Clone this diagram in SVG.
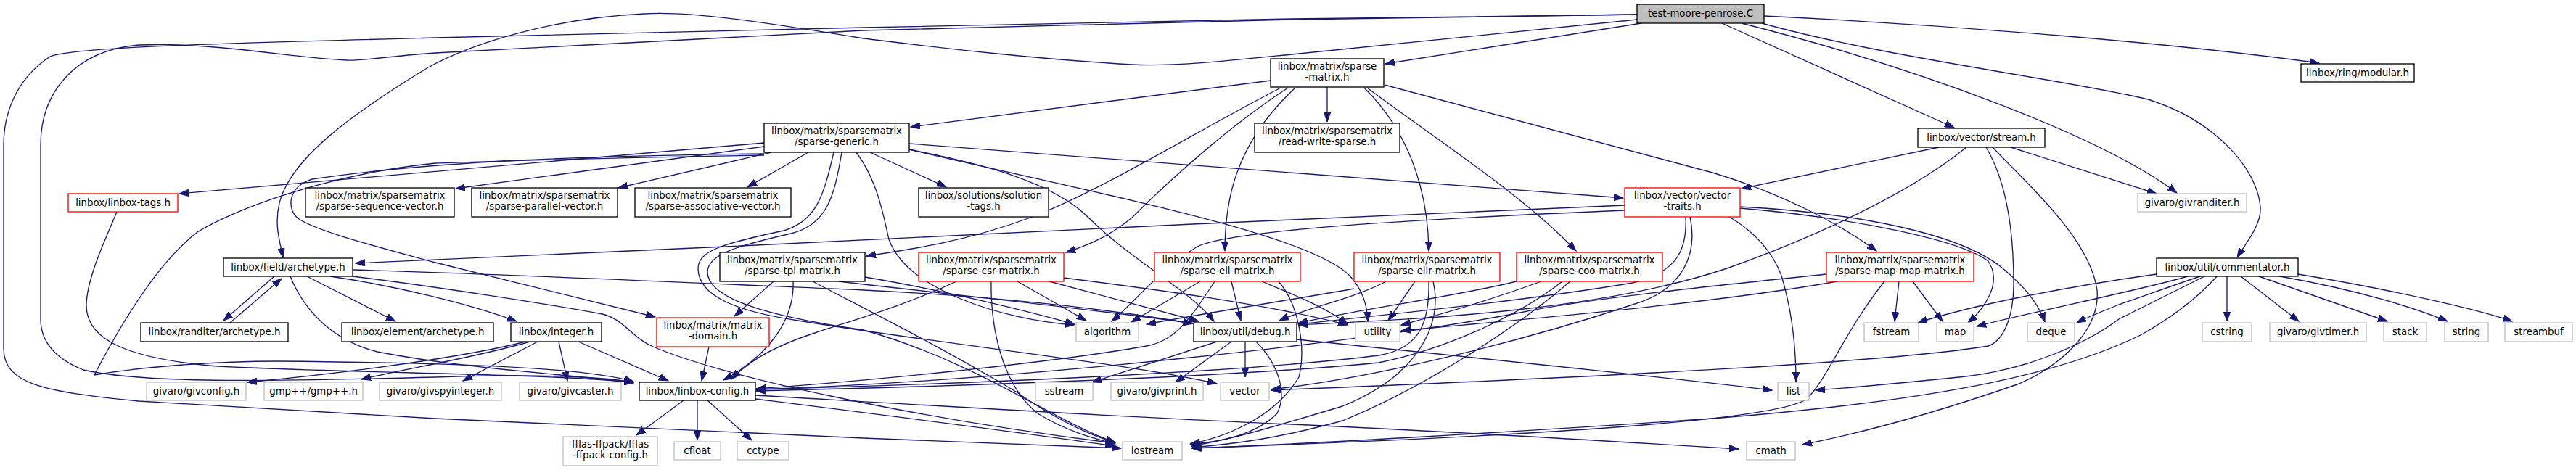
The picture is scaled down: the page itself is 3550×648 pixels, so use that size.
<svg xmlns="http://www.w3.org/2000/svg" width="3550" height="648" viewBox="0 0 3550 648">
<defs>
<marker id="a" markerWidth="14" markerHeight="10" refX="13" refY="5" orient="auto" markerUnits="userSpaceOnUse"><path d="M0,0.3 L13,5 L0,9.7 z" fill="#191970" stroke="#191970" stroke-width="1"/></marker>
<style>
rect{fill:#fff;stroke:#000;stroke-width:1.33}
.r rect{stroke:#ff0000}
.g rect{stroke:#bfbfbf}
.root rect{fill:#bfbfbf}
text{font-family:"DejaVu Sans","Liberation Sans",sans-serif;font-size:13.33px;text-anchor:middle;fill:#000}
#edges path{fill:none;stroke:#191970;stroke-width:1.33;marker-end:url(#a)}
</style>
</defs>
<rect x="0" y="0" width="3550" height="648" style="fill:#fff;stroke:none"/>
<g id="edges">
<path d="M2262,32 L1909,88"/>
<path d="M2373,32 L2693,176"/>
<path d="M2400,32 C2650,95 2900,190 3000,266"/>
<path d="M2428,32 C2600,80 2850,110 2960,137 C3050,165 3110,230 3115,285 C3117,310 3095,335 3083,355"/>
<path d="M2431,22 C2700,35 3000,60 3196,87"/>
<path d="M2256,27 L1780,75 C1700,83 1620,92 1560,89 C1400,80 1250,60 1190,53 C1050,30 950,15 888,19 C760,25 650,60 590,93 C480,160 400,220 385,280 C378,310 385,330 390,355"/>
<path d="M2256,20 L1780,27 L1190,42 L600,73 C530,78 500,84 478,83 C400,80 300,58 191,62 C100,70 56,130 56,200 L56,440 C56,480 90,500 115,510 C200,530 400,525 600,520 C750,515 830,520 873,527"/>
<path d="M2256,20 L1780,26 L1190,38 L600,52 C300,60 100,65 69,78 C20,110 5,160 5,200 L5,480 C5,530 60,540 191,553 L600,577 L1190,604 C1350,610 1450,614 1545,618"/>
<path d="M1751,111 L1255,175"/>
<path d="M1829,120 L1829,168"/>
<path d="M1765,121 C1650,180 1520,262 1420,300 C1330,333 1260,343 1194,353"/>
<path d="M1775,121 C1700,170 1620,240 1560,300 C1530,325 1500,338 1469,348"/>
<path d="M1785,121 C1700,200 1688,280 1688,346"/>
<path d="M1880,121 C1940,180 1968,260 1969,346"/>
<path d="M1884,121 C1990,200 2100,270 2172,346"/>
<path d="M1908,117 L2360,238 C2450,265 2530,305 2586,346"/>
<path d="M1053,197 L247,267"/>
<path d="M1053,202 L628,260"/>
<path d="M1063,210 L852,259"/>
<path d="M1114,210 L1030,258"/>
<path d="M1199,210 L1304,258"/>
<path d="M1253,198 L2237,273"/>
<path d="M1053,212 C800,215 600,222 430,247 C395,258 395,290 412,302 C440,320 520,340 600,362 L903,437"/>
<path d="M1053,214 C800,218 700,222 600,225 C450,240 320,290 272,320 C220,360 170,440 130,517 C200,505 300,498 383,498 C600,500 800,505 873,526"/>
<path d="M1253,206 C1350,225 1450,250 1500,300 C1560,360 1640,400 1673,443"/>
<path d="M1253,206 C1500,265 1800,320 1860,380 C1878,400 1884,420 1885,443"/>
<path d="M1180,210 C1210,250 1218,300 1225,330 C1250,400 1380,440 1480,448"/>
<path d="M1149,210 C1135,270 1125,305 1080,318 C1000,335 962,345 962,370 C962,410 1020,430 1100,442 C1300,475 1550,500 1677,529"/>
<path d="M1160,210 C1150,270 1140,310 1090,322 C1020,338 975,350 975,375 C975,410 1050,435 1190,455 C1350,500 1450,580 1537,610"/>
<path d="M2672,203 L2400,260"/>
<path d="M2771,203 L2972,267"/>
<path d="M2710,203 C2640,260 2520,320 2380,370 C2200,430 1950,440 1790,448"/>
<path d="M2737,203 C2765,250 2775,320 2775,390 C2775,440 2760,470 2740,477 C2600,500 2200,520 1752,538"/>
<path d="M2746,203 C2800,260 2880,330 2890,400 C2895,460 2830,510 2780,530 C2650,575 2550,600 2484,613"/>
<path d="M161,292 C150,320 120,380 119,420 C118,470 180,495 300,505 C500,515 750,515 873,527"/>
<path d="M2239,283 L1780,303 C1500,315 1200,330 1000,340 C800,350 600,358 490,363"/>
<path d="M2239,290 C2000,300 1700,315 1650,340 C1600,370 1560,420 1532,443"/>
<path d="M2398,287 C2550,300 2700,330 2740,360 C2760,390 2735,425 2712,445"/>
<path d="M2398,285 C2550,293 2700,320 2760,370 C2790,395 2810,420 2818,444"/>
<path d="M2383,299 C2410,315 2440,340 2455,380 C2470,430 2475,480 2475,526"/>
<path d="M2323,299 C2325,340 2315,375 2250,390 C2100,415 1900,435 1790,447"/>
<path d="M2329,299 C2340,350 2320,400 2250,420 C2100,470 1900,520 1752,537"/>
<path d="M378,381 L308,442"/>
<path d="M317,445 L388,384"/>
<path d="M423,381 L545,443"/>
<path d="M455,381 C550,395 650,420 712,443"/>
<path d="M400,381 C420,430 460,470 520,485 C650,510 780,515 873,528"/>
<path d="M486,372 C700,378 1000,392 1190,400 C1400,410 1550,430 1643,446"/>
<path d="M486,381 C600,395 760,420 830,433 C860,440 870,465 900,478 C1000,520 1250,575 1536,611"/>
<path d="M724,471 C650,490 500,512 341,527"/>
<path d="M730,471 C660,492 560,508 498,523"/>
<path d="M741,471 L638,525"/>
<path d="M770,471 L782,525"/>
<path d="M797,471 L921,525"/>
<path d="M977,478 L967,525"/>
<path d="M1066,388 L1012,436"/>
<path d="M1093,388 C1095,440 1060,490 997,524"/>
<path d="M1192,382 C1300,400 1420,430 1481,447"/>
<path d="M1156,388 C1300,405 1500,425 1644,446"/>
<path d="M1120,388 C1200,430 1300,480 1400,540 C1450,575 1500,600 1537,610"/>
<path d="M1318,388 C1250,420 1180,440 1120,460 C1060,480 1030,500 1008,523"/>
<path d="M1366,388 C1365,450 1380,530 1430,570 C1470,595 1510,605 1537,612"/>
<path d="M1402,388 L1497,442"/>
<path d="M1446,388 L1652,443"/>
<path d="M1466,383 C1600,400 1750,420 1857,448"/>
<path d="M1654,388 L1559,444"/>
<path d="M1674,388 C1640,440 1620,470 1580,477 C1450,500 1200,525 1042,536"/>
<path d="M1697,388 L1710,442"/>
<path d="M1739,388 C1780,405 1830,425 1857,447"/>
<path d="M1762,388 C1790,420 1800,480 1790,520 C1760,570 1700,600 1641,612"/>
<path d="M1866,398 C1800,410 1700,425 1580,447"/>
<path d="M1910,388 C1870,410 1800,425 1763,442"/>
<path d="M1950,388 L1913,442"/>
<path d="M1969,388 C1970,440 1960,480 1900,490 C1700,515 1300,530 1042,537"/>
<path d="M1975,388 C1990,450 1950,520 1850,560 C1750,590 1700,605 1642,615"/>
<path d="M2090,388 C2000,410 1850,430 1789,446"/>
<path d="M2124,388 C2050,415 1980,435 1931,448"/>
<path d="M2153,388 C2100,430 2000,480 1900,500 C1700,520 1300,533 1042,539"/>
<path d="M2164,388 C2080,460 1950,540 1850,580 C1760,605 1700,612 1643,617"/>
<path d="M2617,388 L2611,443"/>
<path d="M2636,388 L2677,443"/>
<path d="M2517,378 C2400,390 2200,410 2100,430 C1900,470 1400,525 1042,537"/>
<path d="M2532,388 C2350,420 2100,440 1931,456"/>
<path d="M2597,388 C2540,460 2520,520 2490,550 C2440,585 2000,605 1642,618"/>
<path d="M3069,381 L3069,443"/>
<path d="M3088,381 L3168,443"/>
<path d="M3113,381 L3290,443"/>
<path d="M3142,381 C3250,400 3330,425 3373,443"/>
<path d="M3167,378 C3300,400 3420,428 3462,443"/>
<path d="M2972,378 C2850,395 2720,420 2643,445"/>
<path d="M3015,381 C2950,400 2800,430 2724,450"/>
<path d="M3032,381 C2990,395 2950,410 2920,420 C2895,430 2875,438 2862,445"/>
<path d="M3038,381 C3000,400 2960,420 2920,440 C2880,470 2800,510 2700,520 C2600,530 2550,535 2502,538"/>
<path d="M3055,381 C3020,420 2980,445 2950,462 C2850,510 2700,550 2360,577 C2100,595 1800,612 1643,618"/>
<path d="M1677,471 L1505,527"/>
<path d="M1697,471 L1620,527"/>
<path d="M1716,471 L1716,520"/>
<path d="M1731,471 C1760,500 1775,540 1760,570 C1730,600 1680,610 1640,612"/>
<path d="M1787,468 C2000,490 2300,520 2442,538"/>
<path d="M942,552 L877,600"/>
<path d="M961,552 L961,607"/>
<path d="M975,552 L1036,607"/>
<path d="M1041,545 C1300,560 1600,578 1780,585 C2000,595 2250,610 2396,619"/>
<path d="M1041,550 C1200,570 1400,595 1536,615"/>
</g>
<g id="n1" class="root"><rect x="2256" y="6" width="175" height="26"/><text x="2343.5" y="23">test-moore-penrose.C</text></g>
<g id="n2"><rect x="1751" y="81" width="156" height="39"/><text x="1829" y="96">linbox/matrix/sparse</text><text x="1829" y="111">-matrix.h</text></g>
<g id="n3"><rect x="3171" y="88" width="156" height="25"/><text x="3249" y="105">linbox/ring/modular.h</text></g>
<g id="n4"><rect x="1053" y="170" width="200" height="40"/><text x="1153" y="185.3">linbox/matrix/sparsematrix</text><text x="1153" y="200">/sparse-generic.h</text></g>
<g id="n5"><rect x="1729" y="170" width="200" height="40"/><text x="1829" y="185.3">linbox/matrix/sparsematrix</text><text x="1829" y="200">/read-write-sparse.h</text></g>
<g id="n6"><rect x="2643" y="177" width="175" height="26"/><text x="2730.5" y="194">linbox/vector/stream.h</text></g>
<g id="n7" class="r"><rect x="94" y="267" width="151" height="25"/><text x="169.5" y="284">linbox/linbox-tags.h</text></g>
<g id="n8"><rect x="421" y="259" width="205" height="40"/><text x="523.5" y="274.3">linbox/matrix/sparsematrix</text><text x="523.5" y="289">/sparse-sequence-vector.h</text></g>
<g id="n9"><rect x="650" y="259" width="201" height="40"/><text x="750.5" y="274.3">linbox/matrix/sparsematrix</text><text x="750.5" y="289">/sparse-parallel-vector.h</text></g>
<g id="n10"><rect x="875" y="259" width="215" height="40"/><text x="982.5" y="274.3">linbox/matrix/sparsematrix</text><text x="982.5" y="289">/sparse-associative-vector.h</text></g>
<g id="n11"><rect x="1266" y="259" width="179" height="40"/><text x="1355.5" y="274.3">linbox/solutions/solution</text><text x="1355.5" y="289">-tags.h</text></g>
<g id="n12" class="r"><rect x="2239" y="259" width="159" height="40"/><text x="2318.5" y="274.3">linbox/vector/vector</text><text x="2318.5" y="289">-traits.h</text></g>
<g id="n13" class="g"><rect x="2946" y="267" width="150" height="25"/><text x="3021" y="284">givaro/givranditer.h</text></g>
<g id="n14"><rect x="308" y="356" width="178" height="25"/><text x="397" y="373">linbox/field/archetype.h</text></g>
<g id="n15"><rect x="992" y="348" width="200" height="40"/><text x="1092" y="363.3">linbox/matrix/sparsematrix</text><text x="1092" y="378">/sparse-tpl-matrix.h</text></g>
<g id="n16" class="r"><rect x="1266" y="348" width="200" height="40"/><text x="1366" y="363.3">linbox/matrix/sparsematrix</text><text x="1366" y="378">/sparse-csr-matrix.h</text></g>
<g id="n17" class="r"><rect x="1591" y="348" width="201" height="40"/><text x="1691.5" y="363.3">linbox/matrix/sparsematrix</text><text x="1691.5" y="378">/sparse-ell-matrix.h</text></g>
<g id="n18" class="r"><rect x="1866" y="348" width="201" height="40"/><text x="1966.5" y="363.3">linbox/matrix/sparsematrix</text><text x="1966.5" y="378">/sparse-ellr-matrix.h</text></g>
<g id="n19" class="r"><rect x="2090" y="348" width="201" height="40"/><text x="2190.5" y="363.3">linbox/matrix/sparsematrix</text><text x="2190.5" y="378">/sparse-coo-matrix.h</text></g>
<g id="n20" class="r"><rect x="2517" y="348" width="203" height="40"/><text x="2618.5" y="363.3">linbox/matrix/sparsematrix</text><text x="2618.5" y="378">/sparse-map-map-matrix.h</text></g>
<g id="n21"><rect x="2972" y="356" width="195" height="25"/><text x="3069.5" y="373">linbox/util/commentator.h</text></g>
<g id="n22"><rect x="194" y="445" width="203" height="26"/><text x="295.5" y="462">linbox/randiter/archetype.h</text></g>
<g id="n23"><rect x="471" y="445" width="209" height="26"/><text x="575.5" y="462">linbox/element/archetype.h</text></g>
<g id="n24"><rect x="704" y="445" width="125" height="26"/><text x="766.5" y="462">linbox/integer.h</text></g>
<g id="n25" class="r"><rect x="905" y="438" width="155" height="40"/><text x="982.5" y="453.3">linbox/matrix/matrix</text><text x="982.5" y="468">-domain.h</text></g>
<g id="n26" class="g"><rect x="1483" y="445" width="86" height="26"/><text x="1526" y="462">algorithm</text></g>
<g id="n27"><rect x="1645" y="445" width="142" height="26"/><text x="1716" y="462">linbox/util/debug.h</text></g>
<g id="n28" class="g"><rect x="1868" y="445" width="61" height="26"/><text x="1898.5" y="462">utility</text></g>
<g id="n29" class="g"><rect x="2569" y="445" width="75" height="26"/><text x="2606.5" y="462">fstream</text></g>
<g id="n30" class="g"><rect x="2669" y="445" width="51" height="26"/><text x="2694.5" y="462">map</text></g>
<g id="n31" class="g"><rect x="2794" y="445" width="65" height="26"/><text x="2826.5" y="462">deque</text></g>
<g id="n32" class="g"><rect x="3035" y="445" width="68" height="26"/><text x="3069" y="462">cstring</text></g>
<g id="n33" class="g"><rect x="3128" y="445" width="133" height="26"/><text x="3194.5" y="462">givaro/givtimer.h</text></g>
<g id="n34" class="g"><rect x="3285" y="445" width="59" height="26"/><text x="3314.5" y="462">stack</text></g>
<g id="n35" class="g"><rect x="3369" y="445" width="60" height="26"/><text x="3399" y="462">string</text></g>
<g id="n36" class="g"><rect x="3452" y="445" width="93" height="26"/><text x="3498.5" y="462">streambuf</text></g>
<g id="n37" class="g"><rect x="202" y="527" width="137" height="25"/><text x="270.5" y="544">givaro/givconfig.h</text></g>
<g id="n38" class="g"><rect x="364" y="527" width="136" height="25"/><text x="432" y="544">gmp++/gmp++.h</text></g>
<g id="n39" class="g"><rect x="523" y="527" width="168" height="25"/><text x="607" y="544">givaro/givspyinteger.h</text></g>
<g id="n40" class="g"><rect x="716" y="527" width="140" height="25"/><text x="786" y="544">givaro/givcaster.h</text></g>
<g id="n41"><rect x="881" y="527" width="160" height="25"/><text x="961" y="544">linbox/linbox-config.h</text></g>
<g id="n42" class="g"><rect x="1427" y="527" width="79" height="25"/><text x="1466.5" y="544">sstream</text></g>
<g id="n43" class="g"><rect x="1531" y="527" width="127" height="25"/><text x="1594.5" y="544">givaro/givprint.h</text></g>
<g id="n44" class="g"><rect x="1682" y="527" width="67" height="25"/><text x="1715.5" y="544">vector</text></g>
<g id="n45" class="g"><rect x="2450" y="527" width="43" height="25"/><text x="2471.5" y="544">list</text></g>
<g id="n46" class="g"><rect x="776" y="602" width="130" height="40"/><text x="841" y="617.3">fflas-ffpack/fflas</text><text x="841" y="632">-ffpack-config.h</text></g>
<g id="n47" class="g"><rect x="929" y="609" width="64" height="25"/><text x="961" y="626">cfloat</text></g>
<g id="n48" class="g"><rect x="1016" y="609" width="71" height="25"/><text x="1051.5" y="626">cctype</text></g>
<g id="n49" class="g"><rect x="1547" y="609" width="82" height="25"/><text x="1588" y="626">iostream</text></g>
<g id="n50" class="g"><rect x="2407" y="609" width="67" height="25"/><text x="2440.5" y="626">cmath</text></g>
</svg>
